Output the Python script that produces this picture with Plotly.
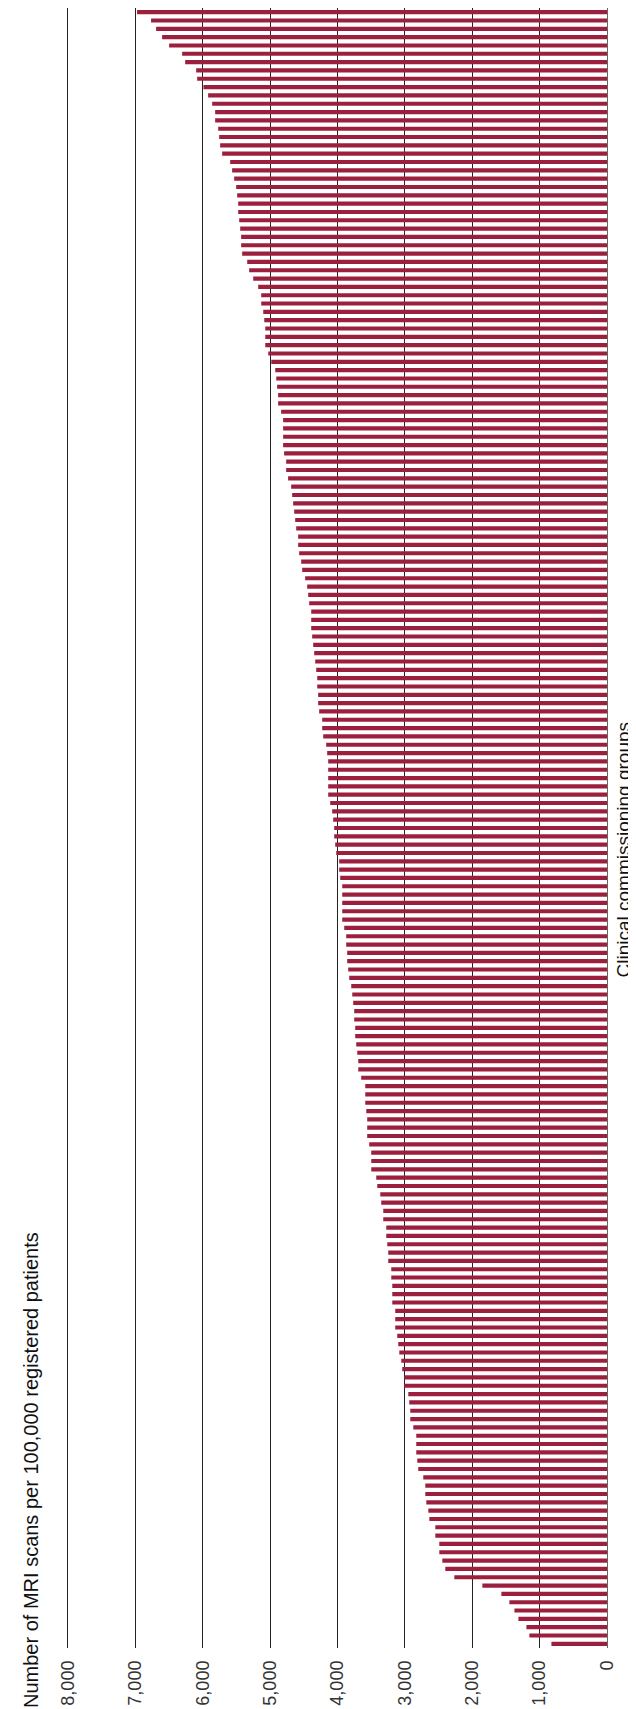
import plotly.graph_objects as go

# MRI scans per 100,000 registered patients, one bar per CCG, listed from highest (top) to lowest (bottom)
scans_per_100k = [
    6975, 6767, 6692, 6603, 6499, 6306, 6261, 6098, 6083, 5990,
    5920, 5860, 5816, 5816, 5771, 5756, 5742, 5712, 5593, 5564,
    5534, 5504, 5489, 5474, 5474, 5459, 5444, 5430, 5430, 5415,
    5340, 5311, 5251, 5177, 5132, 5132, 5102, 5087, 5072, 5072,
    5072, 5028, 4983, 4924, 4909, 4896, 4881, 4881, 4837, 4807,
    4807, 4807, 4807, 4792, 4762, 4762, 4733, 4688, 4673, 4658,
    4643, 4628, 4613, 4584, 4584, 4569, 4539, 4524, 4480, 4450,
    4435, 4420, 4390, 4390, 4390, 4376, 4361, 4346, 4331, 4316,
    4301, 4301, 4287, 4287, 4272, 4227, 4227, 4212, 4168, 4153,
    4138, 4138, 4138, 4138, 4138, 4108, 4079, 4064, 4049, 4049,
    4034, 4019, 3975, 3975, 3960, 3930, 3930, 3930, 3930, 3930,
    3900, 3871, 3871, 3856, 3856, 3841, 3826, 3796, 3781, 3767,
    3752, 3752, 3737, 3737, 3722, 3707, 3692, 3692, 3648, 3588,
    3588, 3588, 3573, 3559, 3559, 3559, 3529, 3499, 3499, 3499,
    3425, 3410, 3365, 3351, 3321, 3321, 3276, 3276, 3261, 3247,
    3247, 3202, 3202, 3187, 3187, 3187, 3143, 3143, 3143, 3113,
    3098, 3083, 3053, 3039, 3009, 3009, 2949, 2935, 2920, 2920,
    2875, 2831, 2831, 2831, 2816, 2801, 2727, 2697, 2697, 2682,
    2652, 2637, 2548, 2548, 2489, 2489, 2444, 2400, 2266, 1850,
    1568, 1449, 1374, 1315, 1196, 1152, 825,
]
ccgs = [f"CCG {i + 1}" for i in range(len(scans_per_100k))]

tick_values = [0, 1000, 2000, 3000, 4000, 5000, 6000, 7000, 8000]
tick_labels = ["0", "1,000", "2,000", "3,000", "4,000", "5,000", "6,000", "7,000", "8,000"]

value_title = "Number of MRI scans per 100,000 registered patients"
category_title = "Clinical commissioning groups"

FONT = "Liberation Sans, Arial, Helvetica, sans-serif"
BAR = "#9c1f3e"

fig = go.Figure(
    go.Bar(
        x=scans_per_100k,
        y=ccgs,
        orientation="h",
        marker=dict(color=BAR, line=dict(width=0)),
        hoverinfo="x",
    )
)

fig.update_layout(
    width=636,
    height=1709,
    margin=dict(l=60, r=37, t=0, b=69),
    paper_bgcolor="white",
    plot_bgcolor="white",
    bargap=0.5,
    showlegend=False,
    font=dict(family=FONT, color="#222222"),
    xaxis=dict(
        range=[8000, 0],
        tickvals=tick_values,
        ticktext=tick_labels,
        tickangle=-90,
        tickfont=dict(size=18, color="#333333", family=FONT),
        showgrid=True,
        gridcolor="#222222",
        gridwidth=1,
        zeroline=True,
        zerolinecolor="#666666",
        zerolinewidth=1,
        showline=False,
        ticks="",
        ticklabelstandoff=8,
        layer="below traces",
    ),
    yaxis=dict(
        type="category",
        autorange="reversed",
        showticklabels=False,
        showgrid=False,
        zeroline=False,
        showline=True,
        linecolor="#222222",
        linewidth=1,
        mirror=False,
        side="left",
        ticks="",
    ),
    annotations=[
        dict(
            text=value_title,
            textangle=-90,
            xref="paper",
            yref="paper",
            x=-0.0686,
            y=-0.0378,
            xanchor="center",
            yanchor="bottom",
            showarrow=False,
            font=dict(size=20, color="#111111", family=FONT),
        ),
        dict(
            text=category_title,
            textangle=-90,
            xref="paper",
            yref="paper",
            x=1.03,
            y=0.487,
            xanchor="center",
            yanchor="middle",
            showarrow=False,
            font=dict(size=19, color="#111111", family=FONT),
        ),
    ],
)

fig.write_html("out.html")
